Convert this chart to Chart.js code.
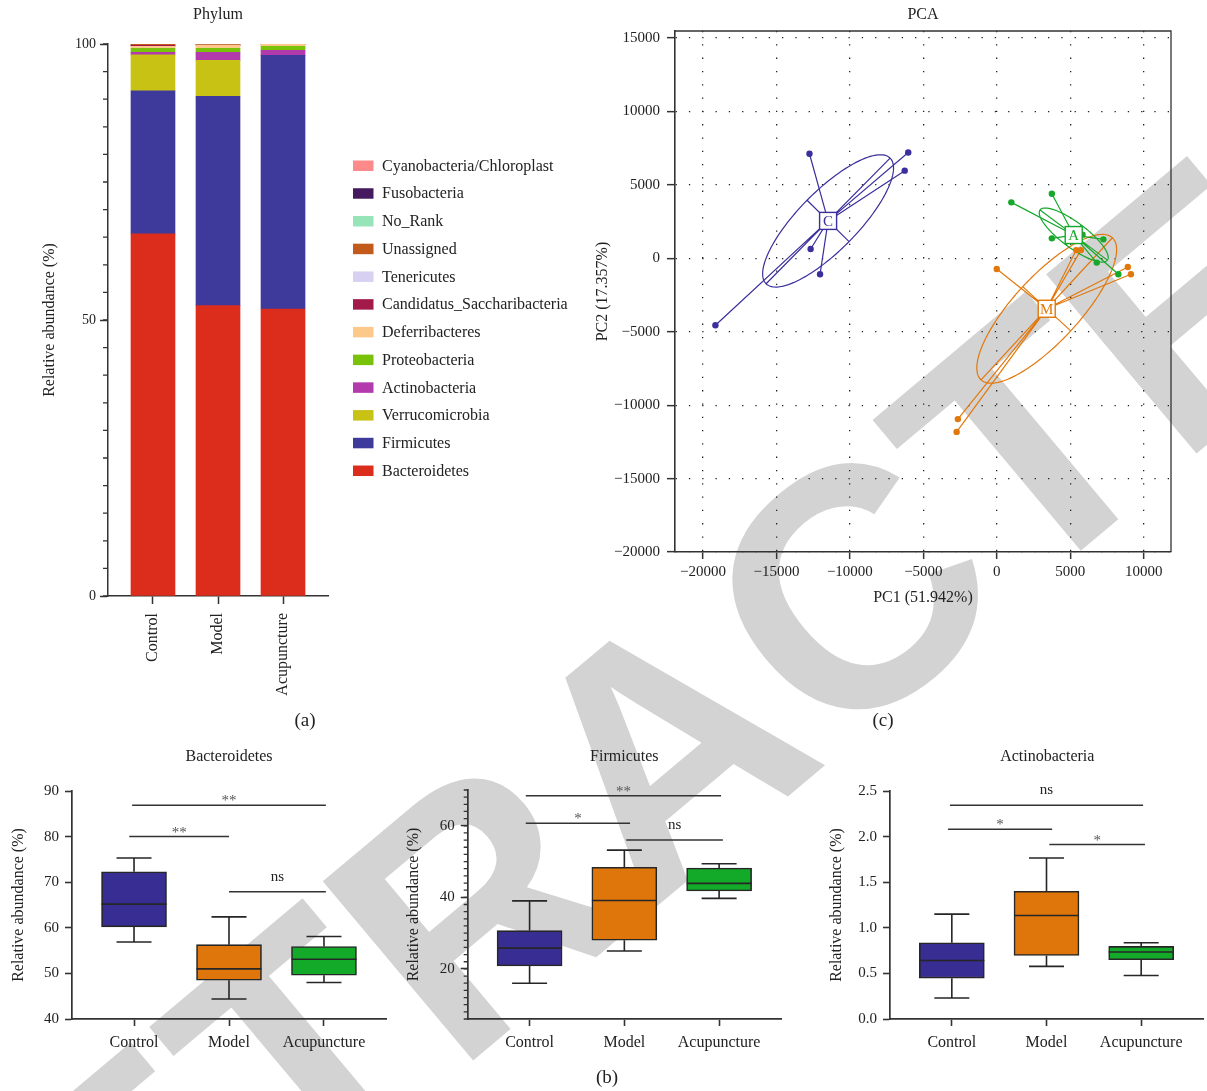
<!DOCTYPE html>
<html>
<head>
<meta charset="utf-8">
<title>Phylum composition, PCA and box plots</title>
<script src="https://cdn.jsdelivr.net/npm/chart.js@4.4.1/dist/chart.umd.min.js"></script>
<style>
  html, body { margin: 0; padding: 0; background: #fff; }
  #page { position: relative; width: 1207px; height: 1091px; overflow: hidden; }
  canvas { position: absolute; z-index: 1; }
  #stamp {
    position: absolute; left: 662px; top: 748px;
    transform: translate(-50%, -50%) rotate(-40deg);
    font: bold 340px 'Liberation Sans', Arial, sans-serif;
    line-height: 1; color: #d3d3d3; white-space: nowrap; z-index: 0;
  }
</style>
</head>
<body>
<div id="page">
  <div id="stamp">RETRACTED</div>
  <canvas id="phylum" width="590" height="740" style="left:0;top:0"></canvas>
  <canvas id="pca" width="617" height="740" style="left:590px;top:0"></canvas>
  <canvas id="bact" width="395" height="351" style="left:0;top:740px"></canvas>
  <canvas id="firm" width="410" height="351" style="left:395px;top:740px"></canvas>
  <canvas id="actino" width="392" height="351" style="left:815px;top:740px"></canvas>
</div>
<script>
const SERIF = "'Liberation Serif', 'Times New Roman', serif";
const AXIS = '#333';
Chart.defaults.font.family = SERIF;
Chart.defaults.color = '#222';
Chart.defaults.animation = false;

// ---------- shared
const groups = ['Control', 'Model', 'Acupuncture'];
const groupColors = ['#382d93', '#df760b', '#13aa2a'];

// ---------- (a) phylum relative abundance (%), stacked from the bottom
const phylumYTicks = [0, 50, 100];
const phylumNames = ['Bacteroidetes', 'Firmicutes', 'Verrucomicrobia', 'Actinobacteria', 'Proteobacteria',
  'Deferribacteres', 'Candidatus_Saccharibacteria', 'Tenericutes', 'Unassigned', 'No_Rank',
  'Fusobacteria', 'Cyanobacteria/Chloroplast'];
const phylumColors = ['#dc2c1c', '#3e3a9c', '#c8c214', '#b33aad', '#78c20a',
  '#fdc98b', '#a11a4a', '#d8d0f0', '#c15a1a', '#96e4b8', '#451a5e', '#fd8a8a'];
const bacteroidetesPct = [65.6, 52.6, 52.0];
const firmicutesPct = [25.9, 37.92, 45.95];
const verrucomicrobiaPct = [6.52, 6.52, 0.02];
const actinobacteriaPct = [0.48, 1.45, 0.9];
const proteobacteriaPct = [0.72, 0.72, 0.72];
const deferribacteresPct = [0.36, 0.54, 0.36];
const candidatusPct = [0.18, 0.02, 0.01];
const tenericutesPct = [0.02, 0.02, 0.01];
const unassignedPct = [0.18, 0.18, 0.01];
const noRankPct = [0.01, 0.01, 0.01];
const fusobacteriaPct = [0.01, 0.01, 0.0];
const cyanobacteriaPct = [0.01, 0.01, 0.01];
const phylumSeries = [bacteroidetesPct, firmicutesPct, verrucomicrobiaPct, actinobacteriaPct,
  proteobacteriaPct, deferribacteresPct, candidatusPct, tenericutesPct, unassignedPct,
  noRankPct, fusobacteriaPct, cyanobacteriaPct];

// ---------- (c) PCA scores
const pcaXTicks = [-20000, -15000, -10000, -5000, 0, 5000, 10000];
const pcaYTicks = [-20000, -15000, -10000, -5000, 0, 5000, 10000, 15000];
const controlPC1 = [-12750, -6030, -6270, -12670, -12030, -19150];
const controlPC2 = [7120, 7210, 5970, 633, -1090, -4560];
const modelPC1 = [-7, 5400, 5720, 8912, 9122, -2653, -2735];
const modelPC2 = [-728, 560, 560, -592, -1088, -10950, -11820];
const acupPC1 = [986, 3742, 3742, 5830, 7250, 6797, 8268];
const acupPC2 = [3810, 4400, 1361, 1612, 1293, -293, -1088];

// ---------- (b) box plots: min, Q1, median, Q3, max per group
const bactYTicks = [40, 50, 60, 70, 80, 90];
const bactMin = [56.9, 44.4, 48.0];
const bactQ1 = [60.2, 48.5, 49.6];
const bactMedian = [65.2, 51.0, 53.1];
const bactQ3 = [72.3, 56.3, 55.9];
const bactMax = [75.3, 62.4, 58.1];
const bactSigFrom = [-0.02, -0.05, 1.0];
const bactSigTo = [2.02, 1.0, 2.02];
const bactSigY = [86.9, 80.0, 67.9];
const bactSigText = ['**', '**', 'ns'];

const firmYTicks = [20, 40, 60];
const firmMin = [16.0, 25.0, 39.7];
const firmQ1 = [20.8, 28.0, 41.8];
const firmMedian = [25.8, 39.1, 43.9];
const firmQ3 = [30.7, 48.4, 48.2];
const firmMax = [39.0, 53.2, 49.4];
const firmSigFrom = [-0.04, -0.04, 1.02];
const firmSigTo = [2.02, 1.06, 2.04];
const firmSigY = [68.4, 60.7, 56.0];
const firmSigText = ['**', '*', 'ns'];

const actYTicks = [0, 0.5, 1.0, 1.5, 2.0, 2.5];
const actMin = [0.23, 0.577, 0.477];
const actQ1 = [0.448, 0.697, 0.65];
const actMedian = [0.642, 1.135, 0.734];
const actQ3 = [0.836, 1.40, 0.796];
const actMax = [1.15, 1.766, 0.836];
const actSigFrom = [-0.02, -0.04, 1.03];
const actSigTo = [2.02, 1.06, 2.04];
const actSigY = [2.343, 2.081, 1.913];
const actSigText = ['ns', '*', '*'];

// ---------- plugins
const fixedTicks = list => scale => { scale.ticks = list.map(v => ({ value: v })); };
const minus = v => (v < 0 ? '\u2212' + Math.abs(v) : String(v));

const textMarks = {
  id: 'textMarks',
  afterDraw(chart, args, opts) {
    const ctx = chart.ctx;
    (opts.items || []).forEach(t => {
      ctx.save();
      ctx.font = (t.size || 16) + 'px ' + SERIF;
      ctx.fillStyle = '#222';
      ctx.textAlign = 'center';
      ctx.textBaseline = 'middle';
      ctx.fillText(t.text, t.x, t.y);
      ctx.restore();
    });
  }
};

const minorTicks = {
  id: 'minorTicks',
  afterDraw(chart, args, opts) {
    if (!opts.step) return;
    const s = chart.scales.y, ctx = chart.ctx;
    const first = Math.ceil(s.min / opts.step - 1e-9);
    const last = Math.floor(s.max / opts.step + 1e-9);
    ctx.save();
    ctx.strokeStyle = AXIS;
    ctx.lineWidth = 1.3;
    ctx.beginPath();
    for (let k = first; k <= last; k++) {
      const py = s.getPixelForValue(k * opts.step);
      ctx.moveTo(s.right - opts.length, py);
      ctx.lineTo(s.right, py);
    }
    ctx.stroke();
    ctx.restore();
  }
};

const sideLegend = {
  id: 'sideLegend',
  afterDraw(chart, args, opts) {
    const ctx = chart.ctx;
    const items = chart.data.datasets.slice().reverse();
    ctx.save();
    ctx.font = opts.size + 'px ' + SERIF;
    ctx.textBaseline = 'middle';
    items.forEach((d, i) => {
      const cy = opts.y + i * opts.gap;
      ctx.fillStyle = d.backgroundColor;
      ctx.fillRect(opts.x, cy - 5, 20.5, 10.5);
      ctx.fillStyle = '#222';
      ctx.fillText(d.label, opts.x + 29, cy + 1);
    });
    ctx.restore();
  }
};

const boxWhiskers = {
  id: 'boxWhiskers',
  afterDatasetsDraw(chart, args, o) {
    const { ctx, scales: { x, y } } = chart;
    ctx.save();
    ctx.strokeStyle = '#262626';
    ctx.lineWidth = 1.6;
    o.median.forEach((m, i) => {
      const cx = x.getPixelForValue(i);
      const lo = y.getPixelForValue(o.min[i]), q1 = y.getPixelForValue(o.q1[i]);
      const md = y.getPixelForValue(m), q3 = y.getPixelForValue(o.q3[i]);
      const hi = y.getPixelForValue(o.max[i]);
      ctx.beginPath();
      ctx.moveTo(cx, q3); ctx.lineTo(cx, hi);
      ctx.moveTo(cx - o.cap / 2, hi); ctx.lineTo(cx + o.cap / 2, hi);
      ctx.moveTo(cx, q1); ctx.lineTo(cx, lo);
      ctx.moveTo(cx - o.cap / 2, lo); ctx.lineTo(cx + o.cap / 2, lo);
      ctx.moveTo(cx - o.box / 2, md); ctx.lineTo(cx + o.box / 2, md);
      ctx.stroke();
    });
    ctx.restore();
  }
};

const sigBars = {
  id: 'sigBars',
  afterDraw(chart, args, o) {
    const { ctx, scales: { x, y } } = chart;
    o.text.forEach((t, k) => {
      const x1 = x.getPixelForValue(o.from[k]), x2 = x.getPixelForValue(o.to[k]);
      const py = y.getPixelForValue(o.y[k]);
      const star = t.indexOf('*') >= 0;
      ctx.save();
      ctx.strokeStyle = '#333';
      ctx.lineWidth = 1.5;
      ctx.beginPath(); ctx.moveTo(x1, py); ctx.lineTo(x2, py); ctx.stroke();
      ctx.font = '15px ' + SERIF;
      ctx.textAlign = 'center';
      ctx.textBaseline = 'alphabetic';
      ctx.fillStyle = star ? '#555' : '#222';
      ctx.fillText(t, (x1 + x2) / 2, py - (star ? 0 : 11));
      ctx.restore();
    });
  }
};

// spread ellipse (1 SD), its axes, spokes from centroid and the centroid tag
function groupStats(points) {
  const n = points.length;
  const mx = points.reduce((a, p) => a + p.x, 0) / n;
  const my = points.reduce((a, p) => a + p.y, 0) / n;
  let sxx = 0, syy = 0, sxy = 0;
  points.forEach(p => {
    const dx = p.x - mx, dy = p.y - my;
    sxx += dx * dx; syy += dy * dy; sxy += dx * dy;
  });
  sxx /= n; syy /= n; sxy /= n;
  const half = (sxx + syy) / 2;
  const r = Math.sqrt(((sxx - syy) / 2) ** 2 + sxy * sxy);
  return {
    mx, my,
    a: Math.sqrt(half + r),
    b: Math.sqrt(Math.max(half - r, 0)),
    th: 0.5 * Math.atan2(2 * sxy, sxx - syy)
  };
}

const pcaOverlay = {
  id: 'pcaOverlay',
  beforeDatasetsDraw(chart) {
    const { ctx, scales: { x, y } } = chart;
    const px = (dx, dy) => [x.getPixelForValue(dx), y.getPixelForValue(dy)];
    chart.data.datasets.forEach(ds => {
      const g = groupStats(ds.data);
      const c = Math.cos(g.th), s = Math.sin(g.th);
      const [cx, cy] = px(g.mx, g.my);
      ctx.save();
      ctx.strokeStyle = ds.backgroundColor;
      ctx.lineWidth = 1.2;
      ctx.beginPath();
      for (let k = 0; k <= 180; k++) {
        const t = k / 180 * Math.PI * 2;
        const [ex, ey] = px(g.mx + g.a * Math.cos(t) * c - g.b * Math.sin(t) * s,
                            g.my + g.a * Math.cos(t) * s + g.b * Math.sin(t) * c);
        if (k === 0) ctx.moveTo(ex, ey); else ctx.lineTo(ex, ey);
      }
      ctx.stroke();
      ctx.beginPath();
      let p = px(g.mx + g.a * c, g.my + g.a * s); ctx.moveTo(p[0], p[1]);
      p = px(g.mx - g.a * c, g.my - g.a * s); ctx.lineTo(p[0], p[1]);
      p = px(g.mx - g.b * s, g.my + g.b * c); ctx.moveTo(p[0], p[1]);
      p = px(g.mx + g.b * s, g.my - g.b * c); ctx.lineTo(p[0], p[1]);
      ds.data.forEach(pt => {
        const q = px(pt.x, pt.y);
        ctx.moveTo(cx, cy); ctx.lineTo(q[0], q[1]);
      });
      ctx.stroke();
      ctx.restore();
    });
  },
  afterDatasetsDraw(chart) {
    const { ctx, scales: { x, y } } = chart;
    chart.data.datasets.forEach(ds => {
      const g = groupStats(ds.data);
      const cx = x.getPixelForValue(g.mx), cy = y.getPixelForValue(g.my);
      ctx.save();
      ctx.fillStyle = '#fff';
      ctx.strokeStyle = ds.backgroundColor;
      ctx.lineWidth = 1.4;
      ctx.fillRect(cx - 8.5, cy - 8.5, 17, 17);
      ctx.strokeRect(cx - 8.5, cy - 8.5, 17, 17);
      ctx.fillStyle = ds.backgroundColor;
      ctx.font = '15px ' + SERIF;
      ctx.textAlign = 'center';
      ctx.textBaseline = 'middle';
      ctx.fillText(ds.label.charAt(0), cx, cy + 1);
      ctx.restore();
    });
  },
  afterDraw(chart) {
    const { ctx, chartArea: a } = chart;
    ctx.save();
    ctx.strokeStyle = AXIS;
    ctx.lineWidth = 1.3;
    ctx.beginPath();
    ctx.moveTo(a.left, a.top); ctx.lineTo(a.right, a.top); ctx.lineTo(a.right, a.bottom);
    ctx.stroke();
    ctx.restore();
  }
};

// ---------- (a)
new Chart(document.getElementById('phylum'), {
  type: 'bar',
  data: {
    datasets: phylumNames.map((name, k) => ({
      label: name,
      data: phylumSeries[k].map((v, i) => ({ x: i, y: v })),
      backgroundColor: phylumColors[k],
      borderWidth: 0,
      barThickness: 44
    }))
  },
  options: {
    responsive: false,
    layout: { padding: { top: 44, right: 262, bottom: 0, left: 0 } },
    scales: {
      x: {
        type: 'linear', stacked: true, min: -0.692, max: 2.692, offset: false,
        afterBuildTicks: fixedTicks([0, 1, 2]),
        afterFit: s => { s.height = 144; },
        ticks: { callback: v => groups[v], minRotation: 90, maxRotation: 90, autoSkip: false,
                 padding: 9, font: { size: 16 }, color: '#222' },
        grid: { drawOnChartArea: false, offset: false, tickLength: 8, tickColor: AXIS, tickWidth: 1.5 },
        border: { color: AXIS, width: 1.5 }
      },
      y: {
        stacked: true, min: 0, max: 100,
        afterBuildTicks: fixedTicks(phylumYTicks),
        afterFit: s => { s.width = 108; },
        ticks: { padding: 4, font: { size: 14 }, color: '#222' },
        grid: { drawOnChartArea: false, tickLength: 8, tickColor: AXIS, tickWidth: 1.5 },
        border: { color: AXIS, width: 1.5 },
        title: { display: true, text: 'Relative abundance (%)', font: { size: 16 },
                 padding: { top: 40.4, bottom: 0 }, color: '#222' }
      }
    },
    plugins: {
      legend: { display: false },
      tooltip: { enabled: false },
      minorTicks: { step: 5, length: 5 },
      sideLegend: { x: 353, y: 165.5, gap: 27.73, size: 16 },
      textMarks: { items: [{ text: 'Phylum', x: 218, y: 15 }, { text: '(a)', x: 305, y: 721, size: 19 }] }
    }
  },
  plugins: [minorTicks, sideLegend, textMarks]
});

// ---------- (c)
const pcaSets = [
  { label: 'Control', xs: controlPC1, ys: controlPC2, color: '#3a2f9c' },
  { label: 'Model', xs: modelPC1, ys: modelPC2, color: '#e2780c' },
  { label: 'Acupuncture', xs: acupPC1, ys: acupPC2, color: '#16a82a' }
];
new Chart(document.getElementById('pca'), {
  type: 'scatter',
  data: {
    datasets: pcaSets.map(g => ({
      label: g.label,
      data: g.xs.map((v, i) => ({ x: v, y: g.ys[i] })),
      backgroundColor: g.color,
      borderColor: g.color,
      borderWidth: 0,
      pointRadius: 3.2,
      pointHoverRadius: 3.2
    }))
  },
  options: {
    responsive: false,
    layout: { padding: { top: 31, right: 36, bottom: 130, left: 0 } },
    scales: {
      x: {
        type: 'linear', min: -21900, max: 11850,
        afterBuildTicks: fixedTicks(pcaXTicks),
        afterFit: s => { s.height = 58; },
        ticks: { callback: minus, padding: 4.3, font: { size: 15 }, color: '#222', maxRotation: 0 },
        grid: { color: '#222', lineWidth: 1.3, tickLength: 7, tickColor: AXIS, tickWidth: 1.5 },
        border: { color: AXIS, width: 1.6, dash: [1.3, 12] },
        title: { display: true, text: 'PC1 (51.942%)', font: { size: 16 },
                 padding: { top: 0, bottom: 2.4 }, color: '#222' }
      },
      y: {
        type: 'linear', min: -20000, max: 15480,
        afterBuildTicks: fixedTicks(pcaYTicks),
        afterFit: s => { s.width = 85; },
        ticks: { callback: minus, padding: 7, font: { size: 15 }, color: '#222' },
        grid: { color: '#222', lineWidth: 1.3, tickLength: 8, tickColor: AXIS, tickWidth: 1.5 },
        border: { color: AXIS, width: 1.6, dash: [1.3, 12] },
        title: { display: true, text: 'PC2 (17.357%)', font: { size: 16 },
                 padding: { top: 3.4, bottom: 0 }, color: '#222' }
      }
    },
    plugins: {
      legend: { display: false },
      tooltip: { enabled: false },
      textMarks: { items: [{ text: 'PCA', x: 333, y: 15 }, { text: '(c)', x: 293, y: 721, size: 19 }] }
    }
  },
  plugins: [pcaOverlay, textMarks]
});

// ---------- (b)
function boxChart(id, cfg) {
  return new Chart(document.getElementById(id), {
    type: 'bar',
    data: {
      datasets: [{
        label: cfg.title,
        data: cfg.q1.map((v, i) => ({ x: i, y: [v, cfg.q3[i]] })),
        backgroundColor: groupColors,
        borderColor: '#262626',
        borderWidth: 1.6,
        borderSkipped: false,
        barThickness: 65
      }]
    },
    options: {
      responsive: false,
      layout: { padding: cfg.padding },
      scales: {
        x: {
          type: 'linear', min: -0.653, max: 2.653, offset: false,
          afterBuildTicks: fixedTicks([0, 1, 2]),
          afterFit: s => { s.height = 72; },
          ticks: { callback: v => groups[v], padding: 7.4, font: { size: 16 }, color: '#222', maxRotation: 0 },
          grid: { drawOnChartArea: false, offset: false, tickLength: 7, tickColor: AXIS, tickWidth: 1.6 },
          border: { color: AXIS, width: 1.7 }
        },
        y: {
          min: cfg.yMin, max: cfg.yMax,
          afterBuildTicks: fixedTicks(cfg.yTicks),
          afterFit: s => { s.width = cfg.yWidth; },
          ticks: { callback: cfg.fmt, padding: 6, font: { size: 15 }, color: '#222' },
          grid: { drawOnChartArea: false, tickLength: 7, tickColor: AXIS, tickWidth: 1.6 },
          border: { color: AXIS, width: 1.7 },
          title: { display: true, text: 'Relative abundance (%)', font: { size: 16 },
                   padding: { top: cfg.titlePad, bottom: 0 }, color: '#222' }
        }
      },
      plugins: {
        legend: { display: false },
        tooltip: { enabled: false },
        boxWhiskers: { min: cfg.min, q1: cfg.q1, median: cfg.median, q3: cfg.q3, max: cfg.max, cap: 35, box: 65 },
        sigBars: cfg.sig,
        minorTicks: cfg.minor || {},
        textMarks: { items: cfg.texts }
      }
    },
    plugins: [boxWhiskers, sigBars, minorTicks, textMarks]
  });
}

boxChart('bact', {
  title: 'Bacteroidetes', q1: bactQ1, q3: bactQ3, min: bactMin, max: bactMax, median: bactMedian,
  yMin: 40, yMax: 90, yTicks: bactYTicks, fmt: v => String(v), yWidth: 72, titlePad: 9.2,
  padding: { top: 51, right: 9, bottom: 0, left: 0 },
  sig: { from: bactSigFrom, to: bactSigTo, y: bactSigY, text: bactSigText },
  texts: [{ text: 'Bacteroidetes', x: 229, y: 17 }]
});

boxChart('firm', {
  title: 'Firmicutes', q1: firmQ1, q3: firmQ3, min: firmMin, max: firmMax, median: firmMedian,
  yMin: 6, yMax: 70, yTicks: firmYTicks, fmt: v => String(v), yWidth: 72.7, titlePad: 9.4,
  padding: { top: 50, right: 24, bottom: 0, left: 0 },
  minor: { step: 2, length: 4 },
  sig: { from: firmSigFrom, to: firmSigTo, y: firmSigY, text: firmSigText },
  texts: [{ text: 'Firmicutes', x: 229.3, y: 17 }, { text: '(b)', x: 212, y: 338, size: 19 }]
});

boxChart('actino', {
  title: 'Actinobacteria', q1: actQ1, q3: actQ3, min: actMin, max: actMax, median: actMedian,
  yMin: 0, yMax: 2.5, yTicks: actYTicks, fmt: v => v.toFixed(1), yWidth: 75, titlePad: 12.1,
  padding: { top: 51, right: 4, bottom: 0, left: 0 },
  sig: { from: actSigFrom, to: actSigTo, y: actSigY, text: actSigText },
  texts: [{ text: 'Actinobacteria', x: 232.3, y: 17 }]
});
</script>
</body>
</html>
